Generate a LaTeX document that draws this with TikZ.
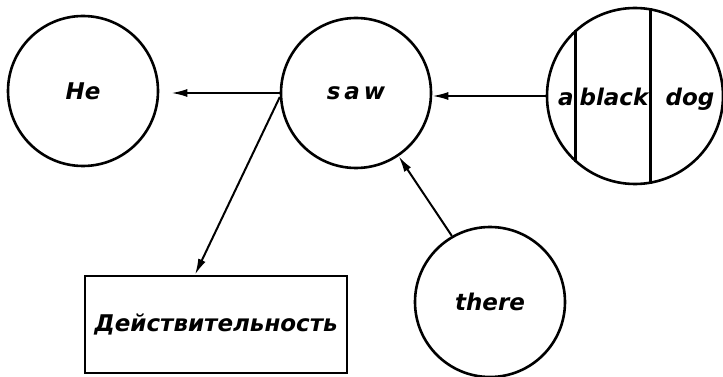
\documentclass[tikz,border=0pt]{standalone}
\usepackage{fontspec}
\setmainfont{DejaVu Sans}
\usetikzlibrary{arrows.meta}
\begin{document}
\begin{tikzpicture}[x=1pt,y=-1pt,
  txt/.style={font=\fontsize{23}{28}\selectfont\bfseries\itshape},
  word/.style={txt,draw,circle,line width=2.6pt,minimum size=150pt,inner sep=0pt},
  arr/.style={line width=2pt,-{Latex[length=16pt,width=8pt]}}]
\useasboundingbox (0,0) rectangle (723,377);

\node[word] (he) at (83,91) {He};
\node[word] (saw) at (356,93) {s\,a\,w};
\node[word,minimum size=176pt] (abd) at (635,96) {};
\node[word] (there) at (490,302) {there};
\node[txt,draw,line width=2.6pt,minimum width=262pt,minimum height=97pt] (real) at (216,324.5) {Действительность};

\draw[line width=2.6pt] (abd.132) -- (abd.228);
\draw[line width=2.6pt] (abd.80) -- (abd.280);
\node[txt,anchor=base] (a) at (566,106) {a};
\node[txt,anchor=base] (black) at (614,106) {black};
\node[txt,anchor=base] (dog) at (690,106) {dog};

\draw[arr,shorten >=12pt] (saw.west) -- (saw.west -| he.east);
\draw[arr] (abd.west) -- (abd.west -| saw.east);
\draw[arr] (saw.183) -- ([xshift=-21pt]real.north);
\draw[arr] (there.120) -- (saw.-56);
\end{tikzpicture}
\end{document}
